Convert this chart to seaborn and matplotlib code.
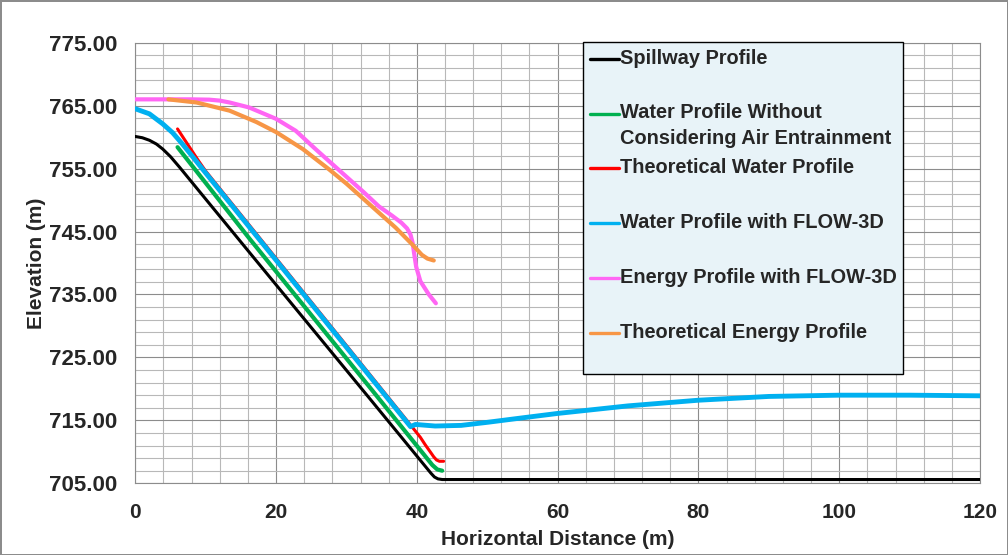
import numpy as np
import pandas as pd
import matplotlib
matplotlib.use("Agg")
import matplotlib.pyplot as plt
from matplotlib.ticker import MultipleLocator, FormatStrFormatter
from matplotlib.legend_handler import HandlerLine2D
import seaborn as sns

# --- data ---
spill_x = [0, 1, 2, 3, 3.9, 5, 6.3, 16.2, 33.2, 42.0, 42.5, 43.0, 43.6, 120]
spill_y = [760.1, 759.9, 759.5, 758.9, 758.1, 756.9, 755.2, 741.7, 718.6, 706.6, 706.0, 705.7, 705.6, 705.6]

green_x = [6.0, 16.2, 33.2, 42.2, 42.9, 43.6]
green_y = [758.4, 743.9, 720.4, 707.9, 707.2, 707.0]

red_x = [6.0, 7.0, 8.0, 9.0, 10.0, 38.5, 39.5, 40.5, 41.2, 41.9, 42.4, 42.8, 43.2, 43.8]
red_y = [761.3, 759.6, 757.9, 756.2, 754.6, 715.1, 713.7, 712.3, 711.1, 710.0, 709.2, 708.7, 708.5, 708.5]

blue_x = [0, 2, 3.9, 5.3, 6.7, 8, 10, 39.1, 39.8, 42.6, 46.3, 50.1, 55, 60, 70, 80, 90, 100, 110, 120]
blue_y = [764.5, 763.7, 762.1, 760.7, 758.9, 757.1, 754.3, 714.0, 714.35, 714.1, 714.2, 714.7,
          715.4, 716.1, 717.3, 718.2, 718.8, 719.0, 719.0, 718.9]

pink_x = [0, 8, 10.5, 12, 13.4, 16.2, 20.0, 22.8, 25.6, 27.5, 30, 32.5, 34.6, 36.5, 37.8,
          38.6, 39.1, 39.4, 39.6, 39.9, 40.5, 41.7, 42.7]
pink_y = [766.0, 766.0, 765.95, 765.8, 765.5, 764.7, 762.9, 761.0, 758.1, 756.2, 753.7, 751.2,
          749.0, 747.5, 746.4, 745.5, 744.5, 743.2, 741.6, 739.4, 737.1, 735.0, 733.6]

orange_x = [4.7, 8.7, 13.4, 17.2, 20.0, 23.8, 27.5, 30, 32.3, 34.6, 37.0, 39.3, 40.7, 41.5, 42.4]
orange_y = [766.0, 765.5, 764.2, 762.4, 760.8, 758.1, 754.9, 752.6, 750.3, 748.0, 745.6, 743.0,
            741.3, 740.7, 740.4]

y_ticks = [705, 715, 725, 735, 745, 755, 765, 775]

labels = ["Spillway Profile",
          "Water Profile Without\nConsidering Air Entrainment",
          "Theoretical Water Profile",
          "Water Profile with FLOW-3D",
          "Energy Profile with FLOW-3D",
          "Theoretical Energy Profile"]
colors = ["#000000", "#00b050", "#ff0000", "#00b0f0", "#ff66f4", "#f79646"]
widths = [2.2, 3.0, 2.2, 3.5, 3.0, 3.0]

series = [(spill_x, spill_y), (green_x, green_y), (red_x, red_y),
          (blue_x, blue_y), (pink_x, pink_y), (orange_x, orange_y)]

sns.set_style("white")
plt.rcParams["font.family"] = ["Liberation Sans", "DejaVu Sans"]
plt.rcParams["font.weight"] = "bold"

LEG_FS = 14.4
LEG_LS = 1.42


class FirstLineHandler(HandlerLine2D):
    # put the legend line beside the first line of a two line label
    def create_artists(self, legend, orig_handle, xdescent, ydescent,
                       width, height, fontsize, trans):
        arts = super().create_artists(legend, orig_handle, xdescent, ydescent,
                                      width, height, fontsize, trans)
        shift = 0.5 * fontsize * (0.21 + 0.73 * LEG_LS)
        for a in arts:
            a.set_ydata(np.asarray(a.get_ydata()) + shift)
        return arts


fig = plt.figure(figsize=(10.08, 5.55), dpi=100)
ax = fig.add_axes([135.3 / 1008, 1 - 483.3 / 555, (980 - 135.3) / 1008, (483.3 - 42.7) / 555])

handles = []
for (xs, ys), lab, c, w in zip(series, labels, colors, widths):
    df = pd.DataFrame({"x": xs, "y": ys})
    sns.lineplot(data=df, x="x", y="y", ax=ax, color=c, lw=w, sort=False,
                 estimator=None, solid_capstyle="round", zorder=3)
    handles.append(plt.Line2D([], [], color=c, lw=2.4))

ax.set_xlim(0, 120)
ax.set_ylim(705, 775)
ax.xaxis.set_major_locator(MultipleLocator(20))
ax.xaxis.set_minor_locator(MultipleLocator(4))
ax.set_yticks(y_ticks)
ax.set_yticks(np.arange(705, 776, 2), minor=True)
ax.yaxis.set_major_formatter(FormatStrFormatter("%.2f"))

ax.grid(which="major", color="#8c8c8c", lw=0.8, zorder=0)
ax.grid(which="minor", color="#b8b8b8", lw=0.8, zorder=0)
ax.set_axisbelow(True)
for s in ax.spines.values():
    s.set_color("#8c8c8c")
    s.set_linewidth(0.8)

ax.tick_params(which="major", direction="out", length=5, width=0.8, color="#8c8c8c")
ax.tick_params(which="minor", length=0)
ax.tick_params(axis="y", labelsize=16, pad=8)
ax.tick_params(axis="x", labelsize=15, pad=9)

ax.set_xlabel("Horizontal Distance (m)", fontsize=15, fontweight="bold", labelpad=6)
ax.set_ylabel("Elevation (m)", fontsize=15, fontweight="bold", labelpad=2)

leg_labels = [l if "\n" in l else l + "\n " for l in labels]
leg_top = 1 - 41.7 / 555
leg = ax.legend(handles, leg_labels, loc="upper left",
                bbox_to_anchor=(583 / 1008, leg_top - 0.6, 320 / 1008, 0.6),
                bbox_transform=fig.transFigure, mode="expand", borderaxespad=0,
                prop={"size": LEG_FS, "weight": "bold"}, frameon=True, fancybox=False,
                framealpha=1, facecolor="#e8f3f8", edgecolor="#000000",
                handlelength=1.45, handletextpad=0.08, borderpad=0.34, labelspacing=0.53,
                handler_map={h: FirstLineHandler() for h in handles})
leg.get_frame().set_linewidth(1.0)
leg.set_zorder(5)
for t in leg.get_texts():
    t.set_linespacing(LEG_LS)

fig.patch.set_edgecolor("#8c8c8c")
fig.patch.set_linewidth(2.0)

fig.savefig("out.png", dpi=100)
